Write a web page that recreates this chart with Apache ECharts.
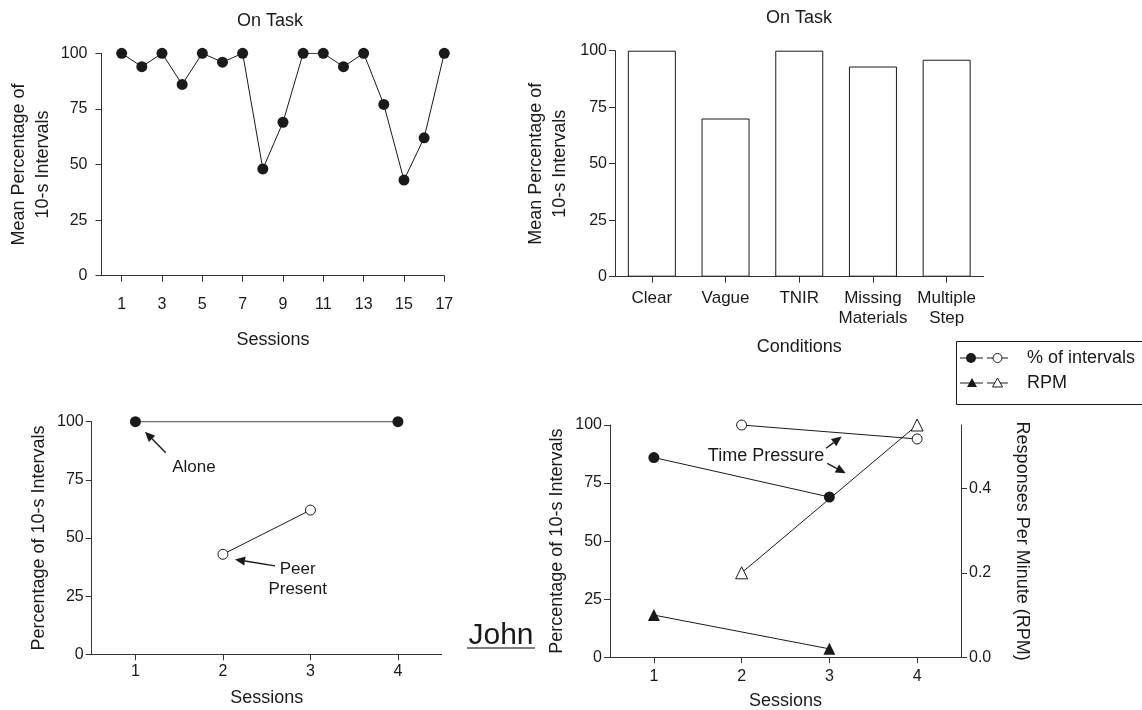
<!DOCTYPE html>
<html><head><meta charset="utf-8">
<script src="https://cdn.jsdelivr.net/npm/echarts@6/dist/echarts.min.js"></script>
<style>html,body{margin:0;padding:0;background:#fff}#c{width:1142px;height:710px}</style>
</head><body><div id="c"></div>
<script>
// ---------- data ----------
const sessionsA = [1,2,3,4,5,6,7,8,9,10,11,12,13,14,15,16,17];
const onTaskA = [100,94,100,86,100,96,100,48,69,100,100,94,100,77,43,62,100];
const sessionTicksA = [1,3,5,7,9,11,13,15,17];

const conditions = ['Clear','Vague','TNIR','Missing\nMaterials','Multiple\nStep'];
const onTaskB = [100,70,100,93,96];

const pctTicks = [0,25,50,75,100];
const sessionTicksB = [1,2,3,4];

const aloneSessions = [1,4];
const aloneValues = [100,100];
const peerSessions = [2,3];
const peerValues = [43,62];

const pctFilledSessions = [1,3];
const pctFilledValues = [86,69];
const pctOpenSessions = [2,4];
const pctOpenValues = [100,94];
const rpmFilledSessions = [1,3];
const rpmFilledValues = [0.1,0.02];
const rpmOpenSessions = [2,4];
const rpmOpenValues = [0.2,0.55];
const rpmTicks = [0,0.2,0.4];

// ---------- styling ----------
const FONT = '"Liberation Sans", Arial, Helvetica, sans-serif';
const INK = '#1a1a1a';
const AX = '#333';
const pts = (xs, ys) => xs.map((x, i) => [x, ys[i]]);

const axisLine = {show: true, lineStyle: {color: AX, width: 1}};
const tick = (extra) => Object.assign({show: true, inside: false, length: 6, lineStyle: {color: AX, width: 1}}, extra || {});
const numLabel = (extra) => Object.assign({fontFamily: FONT, fontSize: 16, color: INK}, extra || {});
const nameStyle = (extra) => Object.assign({fontFamily: FONT, fontSize: 18, color: INK}, extra || {});

function valX(gi, min, max, ticks, offset, margin, nameGap) {
  return {
    gridIndex: gi, type: 'value', min: min, max: max, offset: offset,
    axisLine: axisLine, splitLine: {show: false},
    axisTick: tick({customValues: ticks}),
    axisLabel: numLabel({margin: margin, customValues: ticks}),
    name: 'Sessions', nameLocation: 'middle', nameGap: nameGap,
    nameTextStyle: nameStyle({lineHeight: 20})
  };
}
function pctY(gi, name, offset, nameGap) {
  return {
    gridIndex: gi, type: 'value', min: 0, max: 100, offset: offset,
    axisLine: axisLine, splitLine: {show: false},
    axisTick: tick({customValues: pctTicks}),
    axisLabel: numLabel({margin: 8, customValues: pctTicks}),
    name: name, nameLocation: 'middle', nameGap: nameGap,
    nameTextStyle: nameStyle({lineHeight: 24})
  };
}
function lineSeries(xi, yi, data, symbol, filled, size) {
  return {
    type: 'line', xAxisIndex: xi, yAxisIndex: yi, data: data,
    symbol: symbol, symbolSize: size, showSymbol: true,
    itemStyle: filled ? {color: INK} : {color: '#fff', borderColor: INK, borderWidth: 1},
    lineStyle: {color: INK, width: 1},
    emphasis: {disabled: true}, z: 3
  };
}

const chart = echarts.init(document.getElementById('c'));
chart.setOption({
  animation: false,
  textStyle: {fontFamily: FONT},
  grid: [
    {left: 101.5, top: 53.3, width: 342.8, height: 222.4, outerBoundsMode: 'none'},
    {left: 615, top: 50.7, width: 368.5, height: 226, outerBoundsMode: 'none'},
    {left: 91.7, top: 421.7, width: 350, height: 232.6, outerBoundsMode: 'none'},
    {left: 610, top: 425, width: 351, height: 232.3, outerBoundsMode: 'none'}
  ],
  xAxis: [
    valX(0, 0, 17, sessionTicksA, 10, 11, 44),
    {
      gridIndex: 1, type: 'category', data: conditions, offset: 6,
      axisLine: axisLine, axisTick: tick({alignWithLabel: true}),
      axisLabel: {fontFamily: FONT, fontSize: 17, lineHeight: 20, color: INK, margin: 6, interval: 0},
      name: 'Conditions', nameLocation: 'middle', nameGap: 54,
      nameTextStyle: nameStyle({lineHeight: 20})
    },
    valX(2, 0.5, 4.5, sessionTicksB, 0, 9, 34),
    valX(3, 0.5, 4.5, sessionTicksB, 0, 11, 34)
  ],
  yAxis: [
    pctY(0, 'Mean Percentage of\n10-s Intervals', 6, 40),
    pctY(1, 'Mean Percentage of\n10-s Intervals', 0, 43),
    pctY(2, 'Percentage of 10-s Intervals', 0, 41),
    pctY(3, 'Percentage of 10-s Intervals', 0, 41),
    {
      gridIndex: 3, type: 'value', position: 'right', min: 0, max: 0.55,
      axisLine: axisLine, splitLine: {show: false},
      axisTick: tick({customValues: rpmTicks}),
      axisLabel: numLabel({margin: 8, customValues: rpmTicks, formatter: v => v.toFixed(1)}),
      name: 'Responses Per Minute (RPM)', nameLocation: 'middle', nameRotate: -90, nameGap: 49,
      nameTextStyle: nameStyle({lineHeight: 24})
    }
  ],
  series: [
    lineSeries(0, 0, pts(sessionsA, onTaskA), 'circle', true, 11),
    {
      type: 'bar', xAxisIndex: 1, yAxisIndex: 1, data: onTaskB, barWidth: 48,
      itemStyle: {color: '#fff', borderColor: INK, borderWidth: 1},
      emphasis: {disabled: true}
    },
    lineSeries(2, 2, pts(aloneSessions, aloneValues), 'circle', true, 11),
    lineSeries(2, 2, pts(peerSessions, peerValues), 'circle', false, 10),
    lineSeries(3, 3, pts(pctFilledSessions, pctFilledValues), 'circle', true, 11),
    lineSeries(3, 3, pts(pctOpenSessions, pctOpenValues), 'circle', false, 10),
    lineSeries(3, 4, pts(rpmFilledSessions, rpmFilledValues), 'triangle', true, 12),
    lineSeries(3, 4, pts(rpmOpenSessions, rpmOpenValues), 'triangle', false, 12)
  ]
});

// ---------- annotations (anchored in data space) ----------
const P = (i, x, y) => chart.convertToPixel({xAxisIndex: i, yAxisIndex: i}, [x, y]);
function arrow(p1, p2) {
  const dx = p2[0] - p1[0], dy = p2[1] - p1[1];
  const L = Math.hypot(dx, dy), ux = dx / L, uy = dy / L;
  const hl = 10, hw = 4.5;
  const bx = p2[0] - ux * hl, by = p2[1] - uy * hl;
  return [
    {type: 'line', shape: {x1: p1[0], y1: p1[1], x2: bx, y2: by}, style: {stroke: INK, lineWidth: 1.4}},
    {type: 'polygon', shape: {points: [[p2[0], p2[1]], [bx - uy * hw, by + ux * hw], [bx + uy * hw, by - ux * hw]]}, style: {fill: INK}}
  ];
}
function label(p, text, size, extra) {
  return {type: 'text', x: p[0], y: p[1], style: Object.assign({
    text: text, fontFamily: FONT, fontSize: size, fill: INK,
    align: 'center', verticalAlign: 'middle'}, extra || {})};
}
const g = [];
// panel titles
g.push(label([270, 21], 'On Task', 18));
g.push(label([799, 18], 'On Task', 18));
// bottom-left annotations
g.push(...arrow(P(2, 1.346, 86.7), P(2, 1.109, 95.7)));
g.push(label(P(2, 1.669, 80.6), 'Alone', 17));
g.push(...arrow(P(2, 2.595, 38.0), P(2, 2.138, 40.8)));
g.push(label(P(2, 2.854, 32.4), 'Peer\nPresent', 17, {lineHeight: 20}));
// bottom-right annotations
g.push(label(P(3, 2.278, 86.7), 'Time Pressure', 18));
g.push(...arrow(P(3, 2.962, 90.0), P(3, 3.140, 95.0)));
g.push(...arrow(P(3, 2.976, 83.5), P(3, 3.186, 79.2)));
// John
g.push(label([501, 636], 'John', 30));
g.push({type: 'line', shape: {x1: 467, y1: 648, x2: 535, y2: 648}, style: {stroke: '#555', lineWidth: 1.5}});
// legend box
g.push({type: 'rect', shape: {x: 956.5, y: 341.5, width: 190, height: 63}, style: {fill: 'none', stroke: INK, lineWidth: 1}});
function legRow(y, symbol, text) {
  const items = [
    {type: 'line', shape: {x1: 960, y1: y, x2: 983, y2: y}, style: {stroke: INK, lineWidth: 1}},
    {type: 'line', shape: {x1: 987, y1: y, x2: 1008, y2: y}, style: {stroke: INK, lineWidth: 1}}
  ];
  if (symbol === 'circle') {
    items.push({type: 'circle', shape: {cx: 971, cy: y, r: 5}, style: {fill: INK}});
    items.push({type: 'circle', shape: {cx: 997.5, cy: y, r: 4.5}, style: {fill: '#fff', stroke: INK, lineWidth: 1}});
  } else {
    items.push({type: 'polygon', shape: {points: [[972, y - 5], [977, y + 4], [967, y + 4]]}, style: {fill: INK}});
    items.push({type: 'polygon', shape: {points: [[997.5, y - 5], [1002.5, y + 4], [992.5, y + 4]]}, style: {fill: '#fff', stroke: INK, lineWidth: 1}});
  }
  items.push(label([1027, y], text, 18, {align: 'left'}));
  return items;
}
g.push(...legRow(358, 'circle', '% of intervals'));
g.push(...legRow(383, 'triangle', 'RPM'));
chart.setOption({graphic: g.map(e => Object.assign({silent: true, z: 10}, e))});
</script>
</body></html>
